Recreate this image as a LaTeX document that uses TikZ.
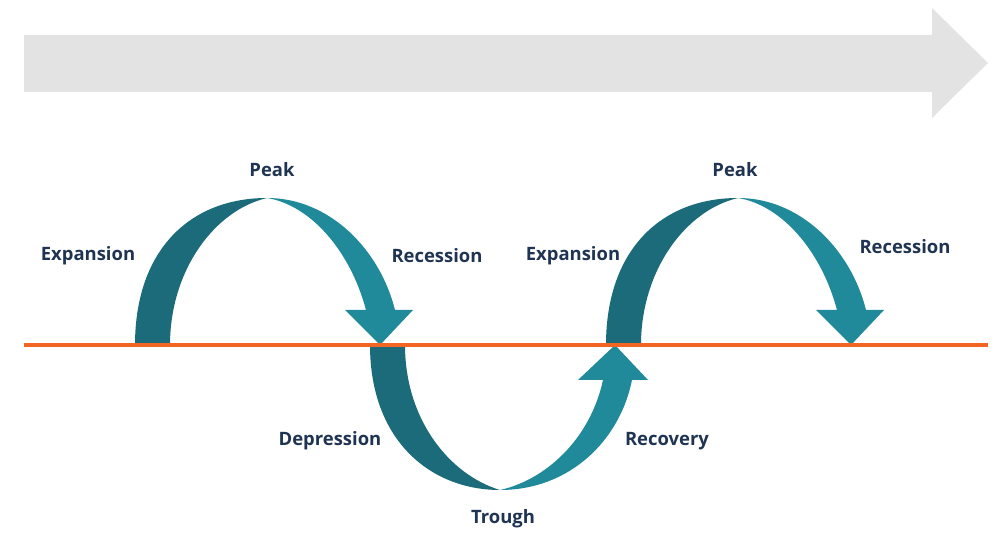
\documentclass[tikz,border=0pt]{standalone}
\usepackage{fontspec}
\setmainfont{Open Sans}
\definecolor{dk}{HTML}{1B6B7B}
\definecolor{lt}{HTML}{208A9B}
\definecolor{navy}{HTML}{1F3452}
\definecolor{org}{HTML}{F26522}
\definecolor{gry}{HTML}{E3E3E3}
\begin{document}
\begin{tikzpicture}[x=0.02cm,y=-0.02cm,
  lbl/.style={text=navy,font=\fontsize{10.5}{12}\selectfont\bfseries,inner sep=0pt}]
\useasboundingbox (0,0) rectangle (1000,543);
\fill[gry] (24,35) -- (932,35) -- (932,8) -- (988,63) -- (932,118) -- (932,92) -- (24,92) -- cycle;
\foreach \s in {0,471}{
\begin{scope}[xshift=\s*0.02cm]
\fill[dk] (135,345) .. controls (135,250) and (190,198) .. (267,198)
  .. controls (215,210) and (170,270) .. (170,345) -- cycle;
\fill[lt] (267,198) .. controls (330,198) and (380,250) .. (395,310) -- (413,310) -- (380,345) -- (345,310) -- (366,310)
  .. controls (350,250) and (310,205) .. (267,198) -- cycle;
\end{scope}}
\fill[dk] (370,345) .. controls (370,440) and (430,490) .. (500,490)
  .. controls (450,475) and (405,420) .. (405,345) -- cycle;
\fill[lt] (500,490) .. controls (570,490) and (620,440) .. (632,380) -- (648,380) -- (615,345) -- (578,380) -- (603,380)
  .. controls (590,440) and (545,480) .. (500,490) -- cycle;
\coordinate (l) at (24,345); \coordinate (r) at (988,345);
\draw[org,line width=1.8pt] (l) -- (r);
\node[lbl] (p1) at (272,170) {Peak};
\node[lbl] (e1) at (88,256) {Expansion};
\node[lbl] (r1) at (437,256) {Recession};
\node[lbl] (e2) at (573,256) {Expansion};
\node[lbl] (p2) at (735,170) {Peak};
\node[lbl] (r2) at (905,247) {Recession};
\node[lbl] (d) at (330,441) {Depression};
\node[lbl] (rc) at (667,441) {Recovery};
\node[lbl] (t) at (503,519) {Trough};
\end{tikzpicture}
\end{document}
